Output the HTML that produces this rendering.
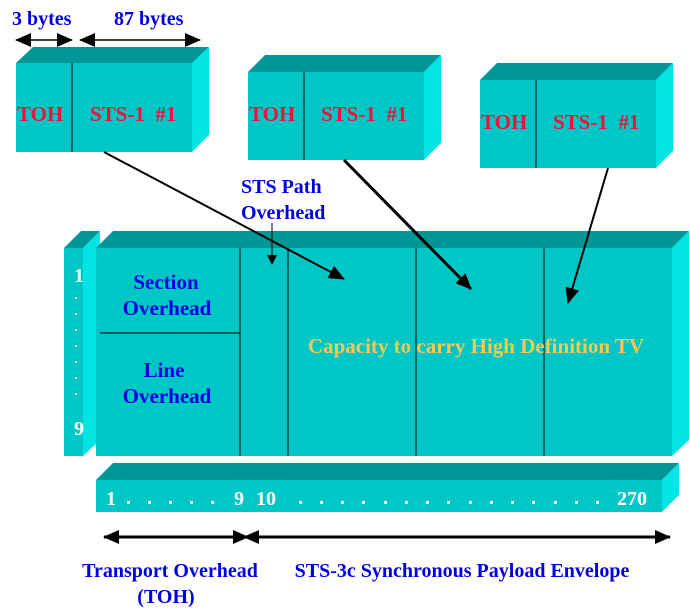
<!DOCTYPE html>
<html><head><style>body{margin:0;background:#fff}svg{display:block}</style></head><body>
<svg width="690" height="614" xmlns="http://www.w3.org/2000/svg" font-family="Liberation Serif, serif" font-weight="bold">
<defs>
<marker id="ah" markerWidth="10" markerHeight="10" refX="9" refY="5" orient="auto" markerUnits="userSpaceOnUse"><path d="M0,0 L10,5 L0,10 z" fill="#000"/></marker>
<marker id="ah2" markerWidth="16" markerHeight="14" refX="15" refY="7" orient="auto" markerUnits="userSpaceOnUse"><path d="M0,0 L16,7 L0,14 z" fill="#000"/></marker>
<marker id="ahs" markerWidth="16" markerHeight="14" refX="1" refY="7" orient="auto" markerUnits="userSpaceOnUse"><path d="M16,0 L0,7 L16,14 z" fill="#000"/></marker>
</defs>
<text x="12" y="25" font-size="20" fill="#0000e0">3 bytes</text>
<text x="114" y="25" font-size="20" fill="#0000e0">87 bytes</text>
<line x1="16" y1="40" x2="72" y2="40" stroke="#000" stroke-width="1.5" marker-start="url(#ahs)" marker-end="url(#ah2)"/>
<line x1="80" y1="40" x2="200" y2="40" stroke="#000" stroke-width="1.5" marker-start="url(#ahs)" marker-end="url(#ah2)"/>
<polygon points="16,63 33,47 209,47 192,63" fill="#009696"/>
<polygon points="192,63 209,47 209,135 192,152" fill="#00e4e4"/>
<rect x="16" y="63" width="176" height="89" fill="#00c6c6"/>
<line x1="72" y1="63" x2="72" y2="152" stroke="#000"/>
<text x="17" y="121" font-size="21" fill="#f0103c">TOH</text>
<text x="90" y="121" font-size="21" fill="#f0103c" xml:space="preserve">STS-1  #1</text>
<polygon points="248,72 265,55 441,55 424,72" fill="#009696"/>
<polygon points="424,72 441,55 441,143 424,160" fill="#00e4e4"/>
<rect x="248" y="72" width="176" height="88" fill="#00c6c6"/>
<line x1="304" y1="72" x2="304" y2="160" stroke="#000"/>
<text x="249" y="121" font-size="21" fill="#f0103c">TOH</text>
<text x="321" y="121" font-size="21" fill="#f0103c" xml:space="preserve">STS-1  #1</text>
<polygon points="480,80 497,63 673,63 656,80" fill="#009696"/>
<polygon points="656,80 673,63 673,151 656,168" fill="#00e4e4"/>
<rect x="480" y="80" width="176" height="88" fill="#00c6c6"/>
<line x1="536" y1="80" x2="536" y2="168" stroke="#000"/>
<text x="481" y="129" font-size="21" fill="#f0103c">TOH</text>
<text x="553" y="129" font-size="21" fill="#f0103c" xml:space="preserve">STS-1  #1</text>
<text x="241" y="193" font-size="20" fill="#0000e0">STS Path</text>
<text x="241" y="219" font-size="20" fill="#0000e0">Overhead</text>
<polygon points="64,248 81,231 100,231 83,248" fill="#009696"/>
<polygon points="83,248 100,231 100,440 83,456" fill="#00e4e4"/>
<rect x="64" y="248" width="19" height="208" fill="#00c6c6"/>
<text x="74" y="282" font-size="20" fill="#fff">1</text>
<g fill="#fff"><rect x="75" y="297" width="2" height="2"/><rect x="75" y="313" width="2" height="2"/><rect x="75" y="329" width="2" height="2"/><rect x="75" y="345" width="2" height="2"/><rect x="75" y="361" width="2" height="2"/><rect x="75" y="377" width="2" height="2"/><rect x="75" y="393" width="2" height="2"/></g>
<text x="74" y="435" font-size="20" fill="#fff">9</text>
<polygon points="96,248 113,231 689,231 672,248" fill="#009696"/>
<polygon points="672,248 689,231 689,440 672,456" fill="#00e4e4"/>
<rect x="96" y="248" width="576" height="208" fill="#00c6c6"/>
<line x1="240" y1="248" x2="240" y2="456" stroke="#000"/>
<line x1="288" y1="248" x2="288" y2="456" stroke="#000"/>
<line x1="416" y1="248" x2="416" y2="456" stroke="#000"/>
<line x1="544" y1="248" x2="544" y2="456" stroke="#000"/>
<line x1="100" y1="333" x2="240" y2="333" stroke="#000"/>
<text x="166" y="289" font-size="21" fill="#0000e0" text-anchor="middle">Section</text>
<text x="167" y="315" font-size="21" fill="#0000e0" text-anchor="middle">Overhead</text>
<text x="164" y="377" font-size="21" fill="#0000e0" text-anchor="middle">Line</text>
<text x="167" y="403" font-size="21" fill="#0000e0" text-anchor="middle">Overhead</text>
<text x="476" y="353" font-size="21" fill="#f8c850" text-anchor="middle">Capacity to carry High Definition TV</text>
<polygon points="96,480 113,463 679,463 662,480" fill="#009696"/>
<polygon points="662,480 679,463 679,495 662,512" fill="#00e4e4"/>
<rect x="96" y="480" width="566" height="32" fill="#00c6c6"/>
<g font-size="20" fill="#fff">
<text x="106" y="505">1</text>
<text x="234" y="505">9</text>
<text x="256" y="505">10</text>
<text x="617" y="505">270</text>
</g>
<g fill="#fff">
<rect x="127" y="501" width="3" height="3"/><rect x="148" y="501" width="3" height="3"/><rect x="169" y="501" width="3" height="3"/><rect x="190" y="501" width="3" height="3"/><rect x="211" y="501" width="3" height="3"/>
<rect x="299" y="501" width="3" height="3"/><rect x="320" y="501" width="3" height="3"/><rect x="341" y="501" width="3" height="3"/><rect x="362" y="501" width="3" height="3"/><rect x="384" y="501" width="3" height="3"/><rect x="405" y="501" width="3" height="3"/><rect x="426" y="501" width="3" height="3"/><rect x="447" y="501" width="3" height="3"/><rect x="469" y="501" width="3" height="3"/><rect x="490" y="501" width="3" height="3"/><rect x="511" y="501" width="3" height="3"/><rect x="532" y="501" width="3" height="3"/><rect x="554" y="501" width="3" height="3"/><rect x="575" y="501" width="3" height="3"/><rect x="596" y="501" width="3" height="3"/>
</g>
<line x1="272" y1="223" x2="272" y2="264" stroke="#000" stroke-width="1" marker-end="url(#ah)"/>
<line x1="104" y1="152" x2="344" y2="279" stroke="#000" stroke-width="2" marker-end="url(#ah2)"/>
<line x1="344" y1="160" x2="471" y2="289" stroke="#000" stroke-width="3" marker-end="url(#ah2)"/>
<line x1="608" y1="168" x2="568" y2="303" stroke="#000" stroke-width="2" marker-end="url(#ah2)"/>
<line x1="104" y1="537" x2="248" y2="537" stroke="#000" stroke-width="3" marker-start="url(#ahs)" marker-end="url(#ah2)"/>
<line x1="244" y1="537" x2="670" y2="537" stroke="#000" stroke-width="3" marker-start="url(#ahs)" marker-end="url(#ah2)"/>
<text x="170" y="577" font-size="20" fill="#0000e0" text-anchor="middle">Transport Overhead</text>
<text x="166" y="603" font-size="20" fill="#0000e0" text-anchor="middle">(TOH)</text>
<text x="462" y="577" font-size="20" fill="#0000e0" text-anchor="middle">STS-3c Synchronous Payload Envelope</text>
</svg>
</body></html>
